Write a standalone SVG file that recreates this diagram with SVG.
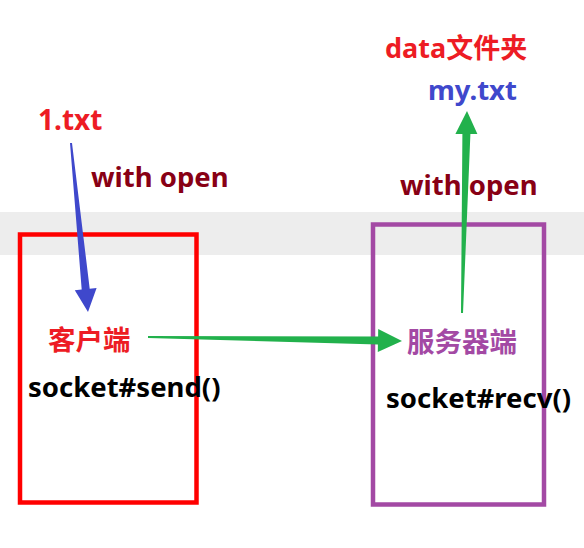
<svg xmlns="http://www.w3.org/2000/svg" width="584" height="548" viewBox="0 0 584 548">
<style>
text{font-family:"Noto Sans","Noto Sans CJK SC",sans-serif;font-weight:bold}
.cjk{font-family:"Noto Sans CJK SC",sans-serif}
.box{fill:none;stroke-width:4.5}
</style>
<rect x="0" y="0" width="584" height="548" fill="#ffffff"/>
<rect x="0" y="212" width="584" height="43" fill="#ededed"/>
<g id="client">
<rect class="box" x="20" y="234.5" width="176.5" height="268" stroke="#ff0000"/>
<text class="cjk" x="48" y="350" font-size="27.5" fill="#ed1c24">客户端</text>
<text x="28" y="397" font-size="27.5" fill="#000000">socket#send()</text>
</g>
<g id="server">
<rect class="box" x="373" y="224.5" width="171" height="280" stroke="#a349a4"/>
<text class="cjk" x="407" y="352" font-size="27.5" fill="#a349a4">服务器端</text>
<text x="386" y="408" font-size="27.5" fill="#000000">socket#recv()</text>
</g>
<g id="file1">
<text x="38" y="130" font-size="28" fill="#ed1c24">1.txt</text>
</g>
<g id="datafolder">
<text x="385" y="58" font-size="27" fill="#ed1c24">data<tspan class="cjk">文件夹</tspan></text>
<text x="428" y="100" font-size="27.5" fill="#3f48cc">my.txt</text>
</g>
<g id="labels">
<text x="91" y="187" font-size="27.5" fill="#880015">with open</text>
<text x="400" y="195" font-size="27.5" fill="#880015">with open</text>
</g>
<g id="connectors">
<polygon fill="#3f48cc" points="70,143.1 72,142.9 89.7,288.7 96.6,288 88,312 74.8,290.2 81.7,289.5"/>
<polygon fill="#22b14c" points="148,336 378.1,336.6 378.2,329.1 402,341 377.8,352.1 377.9,344.6 148,338"/>
<polygon fill="#22b14c" points="461,313 463,313 470.4,134 477.4,134 467,111 455.4,134 462.4,134"/>
</g>
</svg>
